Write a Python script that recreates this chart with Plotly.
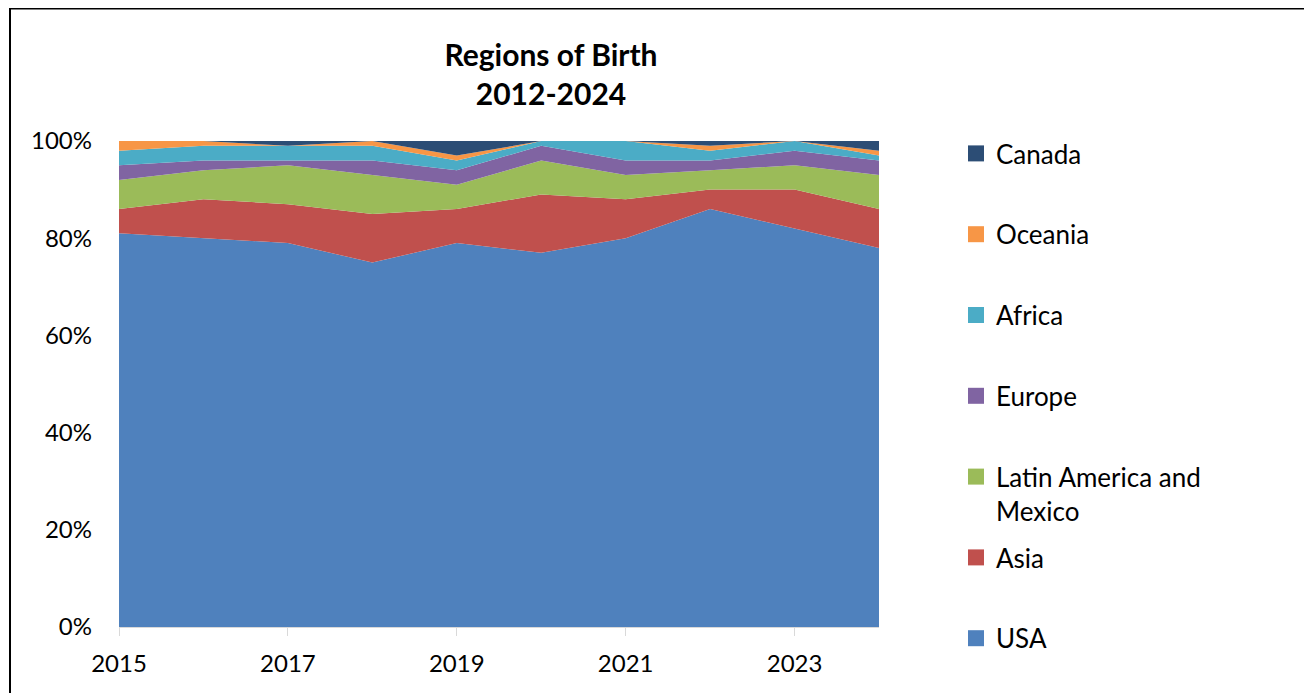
import plotly.graph_objects as go

years = [2015, 2016, 2017, 2018, 2019, 2020, 2021, 2022, 2023, 2024]
usa = [81, 80, 79, 75, 79, 77, 80, 86, 82, 78]
asia = [5, 8, 8, 10, 7, 12, 8, 4, 8, 8]
latin = [6, 6, 8, 8, 5, 7, 5, 4, 5, 7]
europe = [3, 2, 1, 3, 3, 3, 3, 2, 3, 3]
africa = [3, 3, 3, 3, 2, 1, 4, 2, 2, 1]
oceania = [2, 1, 0, 1, 1, 0, 0, 1, 0, 1]
canada = [0, 0, 1, 0, 3, 0, 0, 1, 0, 2]

names = ["USA", "Asia", "Latin America and<br>Mexico", "Europe", "Africa", "Oceania", "Canada"]
values = [usa, asia, latin, europe, africa, oceania, canada]
colors = ["#4F81BD", "#C0504D", "#9BBB59", "#8064A2", "#4BACC6", "#F79646", "#2C4D75"]
legend_of = ["legend2", "legend2", "legend", "legend", "legend", "legend", "legend"]

FONT = "Lato, Calibri, Carlito, sans-serif"
W, H = 1304, 685
L, R, T, B = 111, 871, 133, 619

fig = go.Figure()
for name, vals, color in zip(names, values, colors):
    fig.add_trace(go.Scatter(
        x=years, y=vals, name=name, mode="lines",
        stackgroup="one", groupnorm="percent",
        line=dict(width=0, color=color), fillcolor=color,
        showlegend=False,
    ))

# legend entries (top to bottom as in the reference)
for name, color, lg in reversed(list(zip(names, colors, legend_of))):
    fig.add_trace(go.Scatter(
        x=[None], y=[None], name=name, mode="markers",
        marker=dict(symbol="square", size=16, color=color),
        legend=lg, legendgroup=name, showlegend=True, hoverinfo="skip",
    ))

def px(x):
    return (x - L) / (R - L)

def py(y):
    return (B - y) / (B - T)

legend_common = dict(
    font=dict(family=FONT, size=26, color="#000000"),
    traceorder="grouped", tracegroupgap=44,
    bgcolor="rgba(0,0,0,0)", xanchor="left", yanchor="top",
    itemwidth=30, valign="top", maxheight=900,
)

fig.update_layout(
    width=W, height=H,
    margin=dict(l=L, r=W - R, t=T, b=H - B),
    paper_bgcolor="white", plot_bgcolor="white",
    font=dict(family=FONT, size=24, color="#000000"),
    title=dict(
        text="<b>Regions of Birth</b><br><b>2012-2024</b>",
        x=543 / W, xanchor="center", y=1 - 58 / H, yanchor="middle",
        font=dict(family=FONT, size=30, color="#000000"),
    ),
    xaxis=dict(
        range=[2015, 2024], tickvals=[2015, 2017, 2019, 2021, 2023],
        ticktext=["2015", "2017", "2019", "2021", "2023"],
        showgrid=False, zeroline=False, showline=True, linecolor="#D9D9D9",
        linewidth=1, ticks="outside", ticklen=8, tickcolor="#D9D9D9",
        ticklabelstandoff=7,
        tickfont=dict(family=FONT, size=24, color="#000000"),
    ),
    yaxis=dict(
        range=[0, 100], tickvals=[0, 20, 40, 60, 80, 100],
        ticktext=["0%", "20%", "40%", "60%", "80%", "100%"],
        showgrid=False, zeroline=False, showline=False, ticks="",
        ticklabelstandoff=26,
        tickfont=dict(family=FONT, size=24, color="#000000"),
    ),
    legend=dict(x=px(948), y=py(122), **legend_common),
    legend2=dict(x=px(948), y=py(526), **legend_common),
    showlegend=True,
    shapes=[dict(
        type="rect", xref="paper", yref="paper",
        x0=px(2), x1=px(1302), y0=py(700), y1=py(0.5),
        line=dict(color="#000000", width=2), fillcolor="rgba(0,0,0,0)",
        layer="above",
    )],
)

fig.write_html("out.html")
